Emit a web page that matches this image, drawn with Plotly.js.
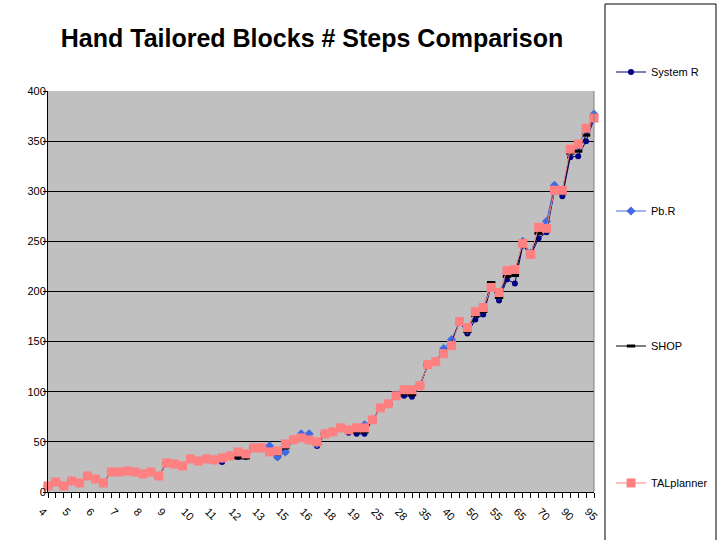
<!DOCTYPE html>
<html>
<head>
<meta charset="utf-8">
<script src="https://cdn.plot.ly/plotly-3.0.1.min.js"></script>
<style>
  html, body { margin: 0; padding: 0; background: #fff; }
  #chart { width: 720px; height: 540px; }
</style>
</head>
<body>
<div id="chart"></div>
<script>
// Labels shown under every third problem.
const tickLabels = ['4', '5', '6', '7', '8', '9', '10', '11', '12', '13', '15', '16',
    '18', '19', '25', '28', '35', '40', '50', '55', '65', '70', '90', '95'];

const systemR = [
    6, 10, 6, 11, 9, 16, 13, 9, 20, 20,
    21, 19, 18, 20, 16, 29, 28, 26, 33, 31,
    33, 32, 30, 36, 35, 35, 44, 44, 42, 35,
    40, 52, 54, 54, 46, 58, 60, 64, 59, 58,
    58, 72, 84, 88, 96, 96, 95, 106, 127, 130,
    140, 150, 170, 158, 172, 177, 205, 191, 212, 208,
    246, 236, 253, 259, 300, 295, 334, 335, 350, 372,
];
const pbR = [
    6, 10, 6, 11, 9, 16, 13, 9, 20, 20,
    21, 20, 18, 20, 16, 29, 28, 26, 33, 31,
    33, 32, 33, 36, 38, 37, 44, 44, 46, 35,
    40, 52, 58, 58, 48, 58, 60, 64, 62, 64,
    67, 72, 84, 88, 97, 102, 100, 106, 127, 130,
    143, 152, 170, 162, 178, 184, 205, 196, 218, 218,
    250, 238, 262, 270, 306, 300, 340, 345, 360, 377,
];
const shop = [
    6, 10, 6, 11, 9, 16, 13, 9, 20, 20,
    21, 20, 18, 20, 16, 29, 28, 26, 33, 31,
    33, 32, 33, 35, 34, 34, 44, 44, 41, 38,
    44, 52, 54, 52, 48, 58, 60, 64, 61, 60,
    60, 72, 84, 88, 96, 98, 97, 106, 127, 130,
    139, 148, 170, 160, 176, 180, 209, 194, 215, 216,
    247, 237, 258, 262, 302, 298, 338, 340, 356, 374,
];
const talPlanner = [
    6, 10, 6, 11, 9, 16, 13, 9, 20, 20,
    21, 20, 18, 20, 16, 29, 28, 26, 33, 31,
    33, 32, 34, 36, 40, 38, 44, 44, 40, 41,
    48, 52, 54, 52, 50, 58, 60, 64, 62, 64,
    64, 72, 84, 88, 96, 102, 102, 106, 127, 130,
    138, 146, 170, 164, 180, 184, 204, 199, 221, 222,
    248, 237, 264, 263, 301, 301, 342, 347, 363, 373,
];

const problemIndex = talPlanner.map((_, i) => i);
const tickVals = tickLabels.map((_, i) => i * 3);

// Plot area in pixels: x 48..594, y 91..492. Legends and frame are placed in page pixels.
const toPaperX = px => (px - 48) / 546;
const toPaperY = py => (492 - py) / 401;
const font = { family: 'Liberation Sans, Arial, sans-serif', size: 11, color: 'black' };

function makeTrace(name, y, legend, line, marker) {
    return {
        type: 'scatter',
        mode: 'lines+markers',
        name,
        x: problemIndex,
        y,
        legend,
        line: { width: 1, ...line },
        marker,
        cliponaxis: false,
    };
}

const data = [
    makeTrace('System R', systemR, 'legend', { color: '#000080' },
        { symbol: 'circle', size: 6, color: '#000080' }),
    makeTrace('Pb.R', pbR, 'legend2', { color: '#4169e1' },
        { symbol: 'diamond', size: 7, color: '#4169e1' }),
    makeTrace('SHOP', shop, 'legend3', { color: 'black' },
        { symbol: 'line-ew', size: 6, color: 'black', line: { width: 3, color: 'black' } }),
    makeTrace('TALplanner', talPlanner, 'legend4', { color: '#ff8080' },
        { symbol: 'square', size: 9, color: '#ff8080' }),
];

const legendAt = py => ({
    xref: 'container',
    yref: 'container',
    x: 611 / 720,
    xanchor: 'left',
    y: 1 - py / 540,
    yanchor: 'middle',
    bgcolor: 'rgba(0,0,0,0)',
    font,
    itemwidth: 30,
});

const layout = {
    width: 720,
    height: 540,
    margin: { l: 48, r: 126, t: 91, b: 48 },
    paper_bgcolor: 'white',
    plot_bgcolor: '#c0c0c0',
    font,
    showlegend: true,
    title: {
        text: 'Hand Tailored Blocks # Steps Comparison',
        font: { family: 'Liberation Sans, Arial, sans-serif', size: 25, color: 'black', weight: 'bold' },
        x: 312 / 720,
        xanchor: 'center',
        xref: 'container',
        y: 1 - 38 / 540,
        yanchor: 'middle',
        yref: 'container',
    },
    xaxis: {
        range: [0, 69],
        tickmode: 'array',
        tickvals: tickVals,
        ticktext: tickLabels,
        tickangle: 45,
        ticks: 'outside',
        ticklen: 5,
        tickcolor: 'black',
        ticklabelshift: -6,
        ticklabelstandoff: 3,
        showgrid: false,
        zeroline: false,
        showline: true,
        linecolor: 'black',
        linewidth: 1,
        minor: { tickmode: 'linear', tick0: 0, dtick: 1, ticks: 'outside', ticklen: 5, tickcolor: 'black', showgrid: false },
        tickfont: font,
        fixedrange: true,
    },
    yaxis: {
        range: [0, 400],
        dtick: 50,
        ticks: 'outside',
        ticklen: 4,
        tickcolor: 'black',
        ticklabelstandoff: -5,
        showgrid: true,
        gridcolor: 'black',
        gridwidth: 1,
        zeroline: false,
        showline: true,
        linecolor: 'black',
        linewidth: 1,
        tickfont: font,
        fixedrange: true,
    },
    legend: legendAt(72),
    legend2: legendAt(211),
    legend3: legendAt(346),
    legend4: legendAt(483),
    shapes: [
        // right edge of the plot area
        { type: 'line', xref: 'paper', yref: 'paper', x0: 1, x1: 1, y0: 0, y1: 1, line: { color: '#808080', width: 1 } },
        // legend frame
        { type: 'rect', xref: 'paper', yref: 'paper', x0: toPaperX(605), x1: toPaperX(716), y0: toPaperY(548), y1: toPaperY(4), line: { color: 'black', width: 1 } },
    ],
};

Plotly.newPlot('chart', data, layout, { displayModeBar: false, staticPlot: true });
</script>
</body>
</html>
